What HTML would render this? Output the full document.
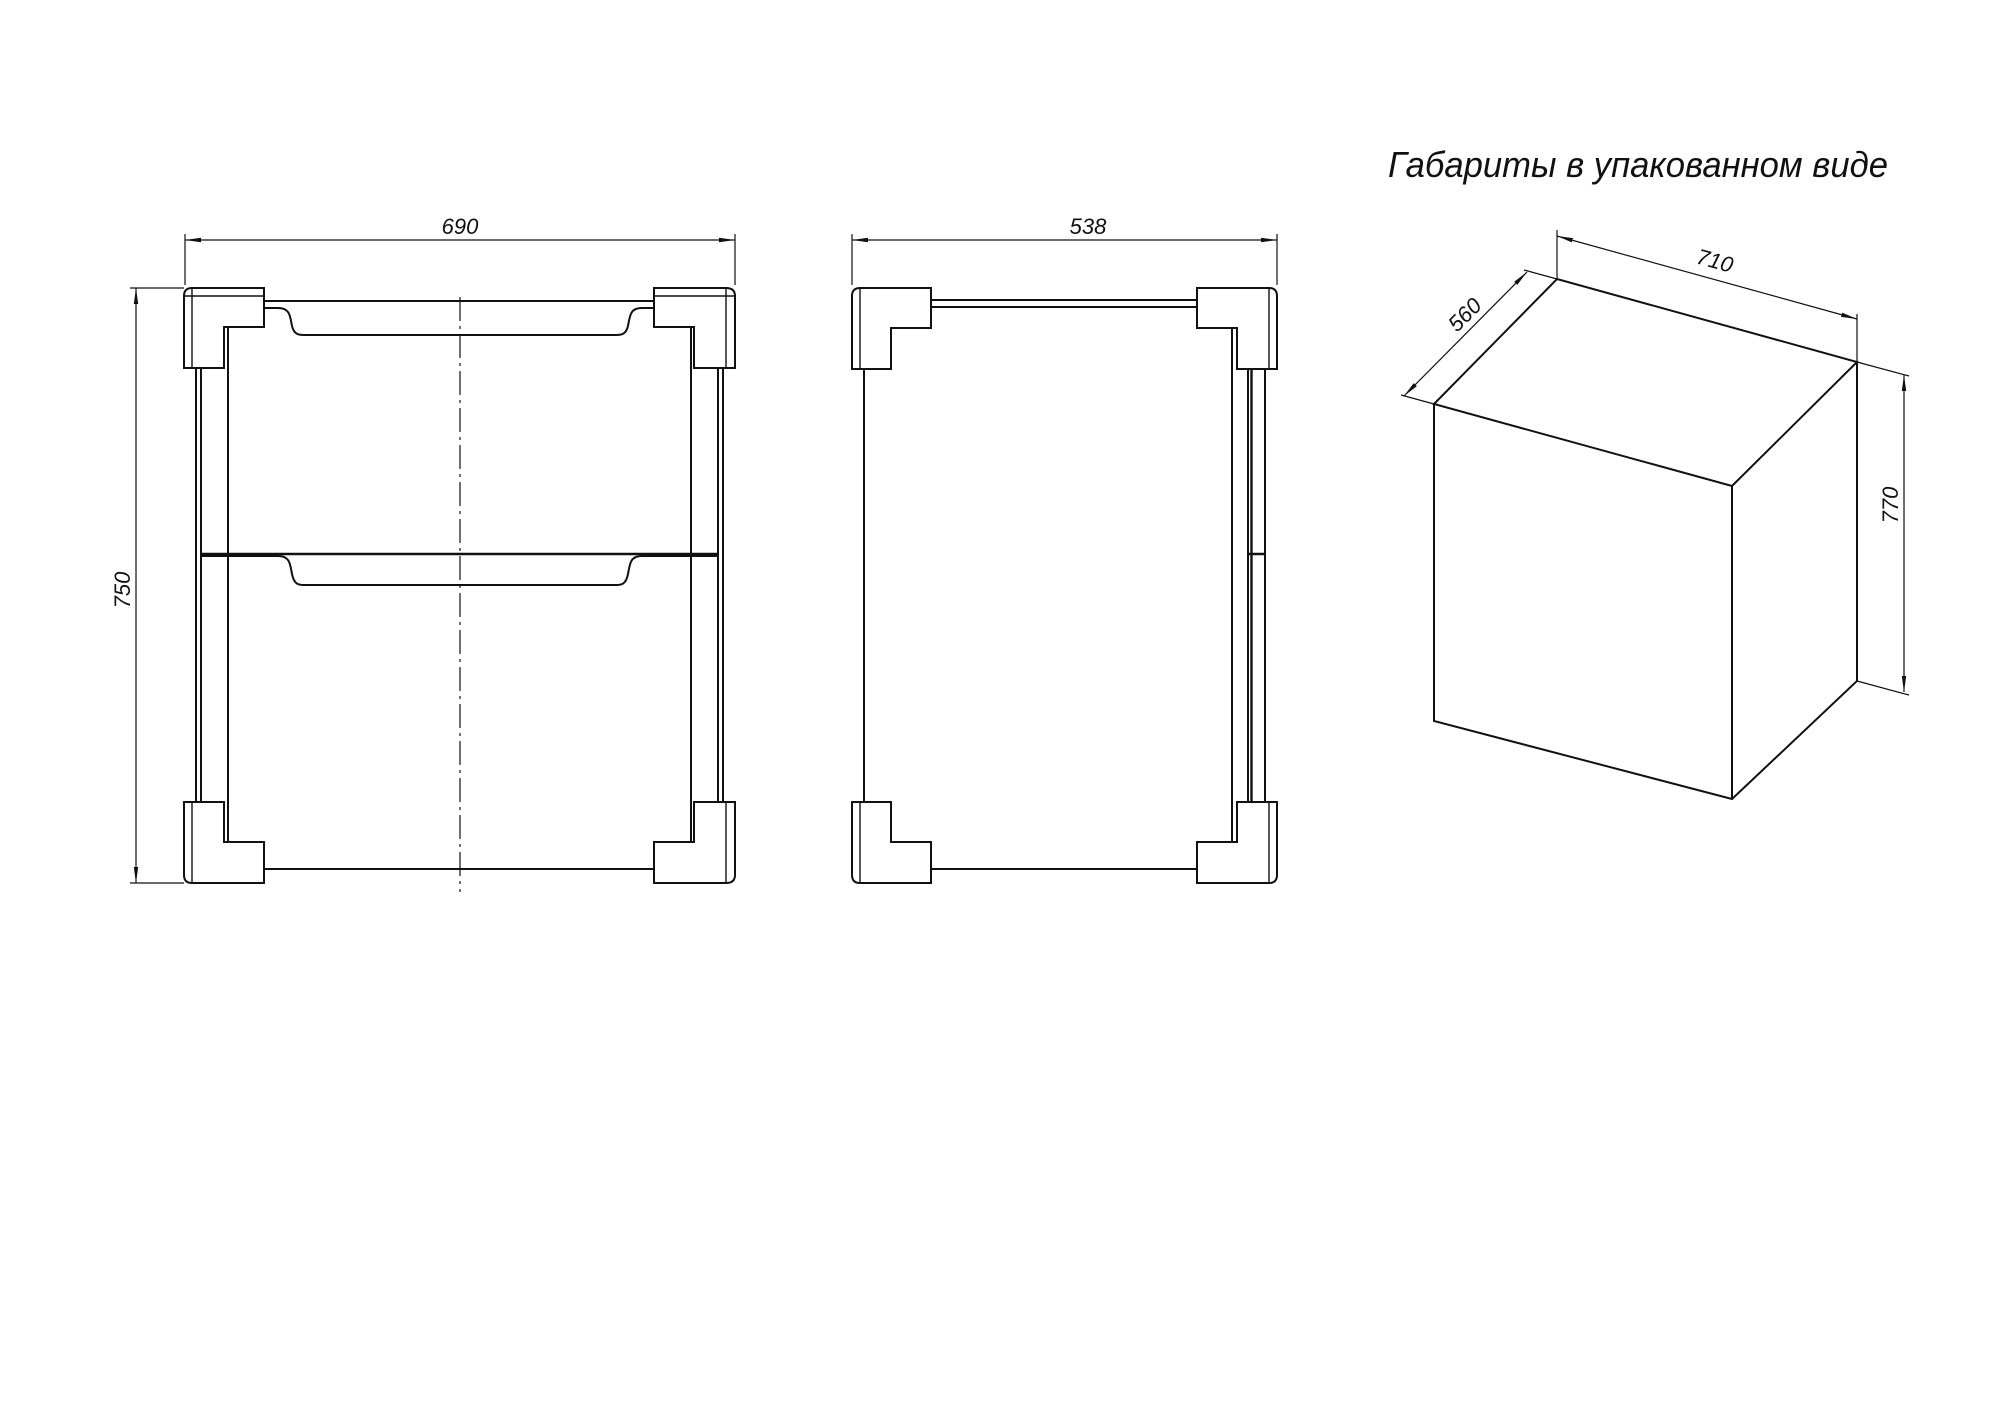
<!DOCTYPE html>
<html><head><meta charset="utf-8"><style>
html,body{margin:0;padding:0;background:#fff}
svg{display:block}
text{font-family:"Liberation Sans","DejaVu Sans",sans-serif;font-style:italic;fill:#111}
</style></head><body>
<svg width="2000" height="1414" viewBox="0 0 2000 1414" xmlns="http://www.w3.org/2000/svg">
<defs>
<marker id="ar" markerWidth="16" markerHeight="6" refX="16" refY="3" orient="auto" markerUnits="userSpaceOnUse">
<path d="M0,0.8 L16,3 L0,5.2 Z" fill="#111"/></marker>
<marker id="al" markerWidth="16" markerHeight="6" refX="0" refY="3" orient="auto" markerUnits="userSpaceOnUse">
<path d="M16,0.8 L0,3 L16,5.2 Z" fill="#111"/></marker>
</defs>
<g fill="none" stroke="#111" stroke-width="2">
<!-- FRONT VIEW -->
<line x1="185" y1="234" x2="185" y2="285" stroke-width="1.2"/>
<line x1="735" y1="234" x2="735" y2="285" stroke-width="1.2"/>
<line x1="185" y1="240" x2="735" y2="240" stroke-width="1.2" marker-start="url(#al)" marker-end="url(#ar)"/>
<line x1="130" y1="288" x2="184" y2="288" stroke-width="1.2"/>
<line x1="130" y1="883" x2="184" y2="883" stroke-width="1.2"/>
<line x1="136" y1="288" x2="136" y2="883" stroke-width="1.2" marker-start="url(#al)" marker-end="url(#ar)"/>
<path d="M192,288 H264 V327 H224 V368 H184 V296 Q184,288 192,288 Z"/>
<path d="M192,288 V368 M184,296 H264" stroke-width="1.4"/>
<path d="M726,288 H654 V327 H694 V368 H735 V296 Q735,288 726,288 Z"/>
<path d="M726,288 V368 M735,296 H654" stroke-width="1.4"/>
<path d="M184,802 H224 V842 H264 V883 H192 Q184,883 184,875 Z"/>
<path d="M192,802 V883" stroke-width="1.4"/>
<path d="M735,802 H694 V842 H654 V883 H726 Q735,883 735,875 Z"/>
<path d="M726,802 V883" stroke-width="1.4"/>
<line x1="264" y1="301" x2="654" y2="301"/>
<path d="M264,308 H278 C290,308 290,316 292,326 C294,334 298,335 304,335 H616 C622,335 626,334 628,326 C630,316 630,308 642,308 H654"/>
<line x1="264" y1="869" x2="654" y2="869"/>
<line x1="196" y1="368" x2="196" y2="802"/>
<line x1="201" y1="368" x2="201" y2="802"/>
<line x1="228" y1="327" x2="228" y2="842"/>
<line x1="718" y1="368" x2="718" y2="802"/>
<line x1="723" y1="368" x2="723" y2="802"/>
<line x1="691" y1="327" x2="691" y2="842"/>
<line x1="201" y1="554" x2="718" y2="554" stroke-width="2.6"/>
<path d="M201,556 H278 C290,556 290,564 292,574 C294,584 298,585 304,585 H616 C622,585 626,584 628,574 C630,564 630,556 642,556 H718"/>
<line x1="460" y1="297" x2="460" y2="892" stroke-width="1.2" stroke-dasharray="24,5,3,5"/>

<!-- SIDE VIEW -->
<line x1="852" y1="234" x2="852" y2="285" stroke-width="1.2"/>
<line x1="1277" y1="234" x2="1277" y2="285" stroke-width="1.2"/>
<line x1="852" y1="240" x2="1277" y2="240" stroke-width="1.2" marker-start="url(#al)" marker-end="url(#ar)"/>
<path d="M860,288 H931 V328 H891 V369 H852 V296 Q852,288 860,288 Z"/>
<path d="M860,288 V369" stroke-width="1.4"/>
<path d="M1269,288 H1197 V328 H1237 V369 H1277 V296 Q1277,288 1269,288 Z"/>
<path d="M1269,288 V369" stroke-width="1.4"/>
<path d="M852,802 H891 V842 H931 V883 H860 Q852,883 852,875 Z"/>
<path d="M860,802 V883" stroke-width="1.4"/>
<path d="M1277,802 H1237 V842 H1197 V883 H1269 Q1277,883 1277,875 Z"/>
<path d="M1269,802 V883" stroke-width="1.4"/>
<line x1="931" y1="300" x2="1197" y2="300"/>
<line x1="931" y1="307" x2="1197" y2="307"/>
<line x1="931" y1="869" x2="1197" y2="869"/>
<line x1="864" y1="369" x2="864" y2="802"/>
<line x1="1232" y1="328" x2="1232" y2="842"/>
<line x1="1248" y1="369" x2="1248" y2="802"/>
<line x1="1251.5" y1="369" x2="1251.5" y2="802" stroke-width="2.4"/>
<line x1="1265" y1="369" x2="1265" y2="802"/>
<line x1="1248" y1="554" x2="1265" y2="554" stroke-width="2.6"/>

<!-- BOX -->
<path d="M1434,404 L1557,279 L1857,362 L1732,486 Z"/>
<path d="M1434,404 V721 L1732,799 L1857,681 V362"/>
<line x1="1732" y1="486" x2="1732" y2="799"/>
<line x1="1557" y1="230" x2="1557" y2="279" stroke-width="1.2"/>
<line x1="1857" y1="314" x2="1857" y2="362" stroke-width="1.2"/>
<line x1="1557" y1="236" x2="1857" y2="319" stroke-width="1.2" marker-start="url(#al)" marker-end="url(#ar)"/>
<line x1="1434" y1="404" x2="1401" y2="395" stroke-width="1.2"/>
<line x1="1557" y1="279" x2="1524" y2="270" stroke-width="1.2"/>
<line x1="1404" y1="396" x2="1527" y2="272" stroke-width="1.2" marker-start="url(#al)" marker-end="url(#ar)"/>
<line x1="1857" y1="362" x2="1909" y2="376" stroke-width="1.2"/>
<line x1="1857" y1="681" x2="1909" y2="695" stroke-width="1.2"/>
<line x1="1904" y1="375" x2="1904" y2="692" stroke-width="1.2" marker-start="url(#al)" marker-end="url(#ar)"/>
</g>
<text x="460" y="234" font-size="22" text-anchor="middle">690</text>
<text x="1088" y="234" font-size="22" text-anchor="middle">538</text>
<text transform="translate(130,590) rotate(-90)" font-size="22" text-anchor="middle">750</text>
<text transform="translate(1713,268) rotate(15.3)" font-size="22" text-anchor="middle">710</text>
<text transform="translate(1470,320) rotate(-45)" font-size="22" text-anchor="middle">560</text>
<text transform="translate(1898,505) rotate(-90)" font-size="22" text-anchor="middle">770</text>
<text x="1388" y="177" font-size="36" textLength="500" lengthAdjust="spacingAndGlyphs">Габариты в упакованном виде</text>
</svg>
</body></html>
